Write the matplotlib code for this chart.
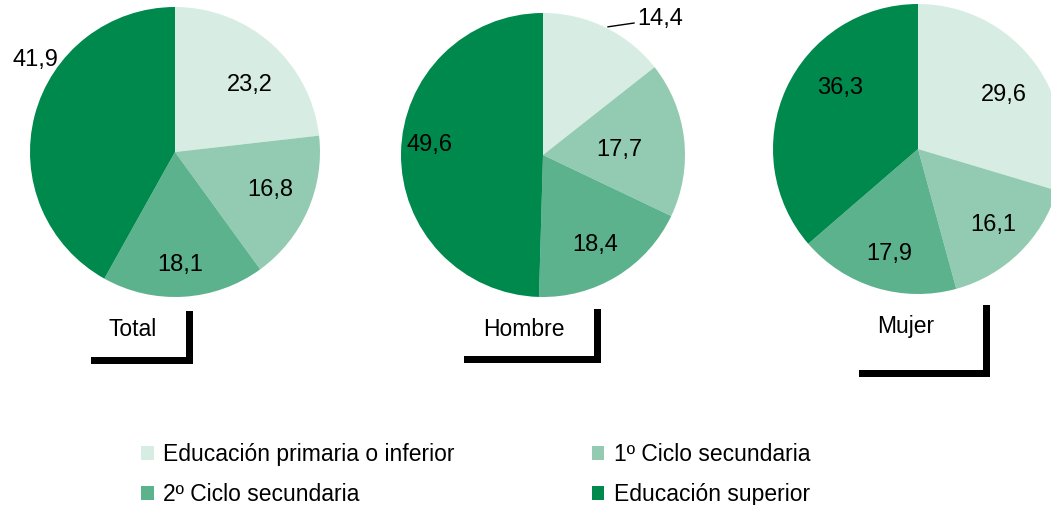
import numpy as np
import matplotlib
matplotlib.use('Agg')
import matplotlib.pyplot as plt
from matplotlib.patches import Rectangle, Patch

plt.rcParams['font.family'] = ['Liberation Sans', 'DejaVu Sans']

# datos
categorias = ['Educación primaria o inferior', '1º Ciclo secundaria',
              '2º Ciclo secundaria', 'Educación superior']
grupos = ['Total', 'Hombre', 'Mujer']
total = [23.2, 16.8, 18.1, 41.9]
hombre = [14.4, 17.7, 18.4, 49.6]
mujer = [29.6, 16.1, 17.9, 36.3]

colores = ['#d7ede3', '#93cbb2', '#5db28e', '#00894c']

W, H = 1051, 505
fig = plt.figure(figsize=(W / 100, H / 100), dpi=100)


def fx(x):
    return x / W


def fy(y):
    return 1 - y / H


# posicion de cada tarta (centro x, centro y, radio) en pixeles
tartas = [(175, 152, 145), (543, 155, 142), (918, 149, 145)]
# distancia radial y desvio angular de cada etiqueta
dist_etq = [[0.69, 0.71, 0.78, 1.15],
            [None, 0.54, 0.73, 0.80],
            [0.70, 0.74, 0.75, 0.68]]
desv_etq = [[-6.4, 2, -1, -18.7],
            [0, -2.6, -1.3, -4.2],
            [-4.3, 0.5, 1.7, -13.5]]

for i, datos in enumerate([total, hombre, mujer]):
    cx, cy, r = tartas[i]
    ax = fig.add_axes([fx(cx - r), fy(cy + r), 2 * r / W, 2 * r / H])
    wedges, _ = ax.pie(datos, colors=colores, startangle=90, counterclock=False,
                       wedgeprops=dict(linewidth=0))
    ax.set_xlim(-1, 1)
    ax.set_ylim(-1, 1)
    ax.set_aspect('equal')
    ax.axis('off')
    for j, w in enumerate(wedges):
        mid = (w.theta1 + w.theta2) / 2
        etq = f'{datos[j]:.1f}'.replace('.', ',')
        d = dist_etq[i][j]
        if d is None:
            # etiqueta fuera con linea guia
            a = np.deg2rad(mid)
            ax.annotate(etq, xy=(np.cos(a), np.sin(a)), xytext=(32, 8),
                        textcoords='offset pixels', ha='left', va='center',
                        fontsize=17, annotation_clip=False,
                        arrowprops=dict(arrowstyle='-', color='black', lw=1,
                                        shrinkA=0, shrinkB=2))
            continue
        a = np.deg2rad(mid + desv_etq[i][j])
        ax.text(d * np.cos(a), d * np.sin(a), etq, ha='center', va='center',
                fontsize=17, clip_on=False)

# cajas con sombra para los titulos
cajas = [(84, 304, 102, 53), (457, 302, 137, 54), (852, 298, 131, 72)]
tit_pos = [(133, 330), (524, 330), (906, 327)]
for (x, y, w, h), (tx, ty), g in zip(cajas, tit_pos, grupos):
    fig.add_artist(Rectangle((fx(x + 7), fy(y + 7 + h)), w / W, h / H,
                             transform=fig.transFigure, facecolor='black',
                             edgecolor='none'))
    fig.add_artist(Rectangle((fx(x), fy(y + h)), w / W, h / H,
                             transform=fig.transFigure, facecolor='white',
                             edgecolor='none'))
    fig.text(fx(tx), fy(ty), g, ha='center', va='center', fontsize=16.5)

# leyenda por filas: se reordena porque matplotlib rellena por columnas
orden = [0, 2, 1, 3]
handles = [Patch(facecolor=colores[k], edgecolor='none') for k in orden]
etiquetas = [categorias[k] for k in orden]
fig.legend(handles, etiquetas, ncol=2, loc='upper left',
           bbox_to_anchor=(fx(141), fy(443)), frameon=False, fontsize=16.5,
           handlelength=0.55, handleheight=0.55, handletextpad=0.4,
           columnspacing=6.0, labelspacing=0.73, borderpad=0, borderaxespad=0)

plt.savefig('out.png', dpi=100)
